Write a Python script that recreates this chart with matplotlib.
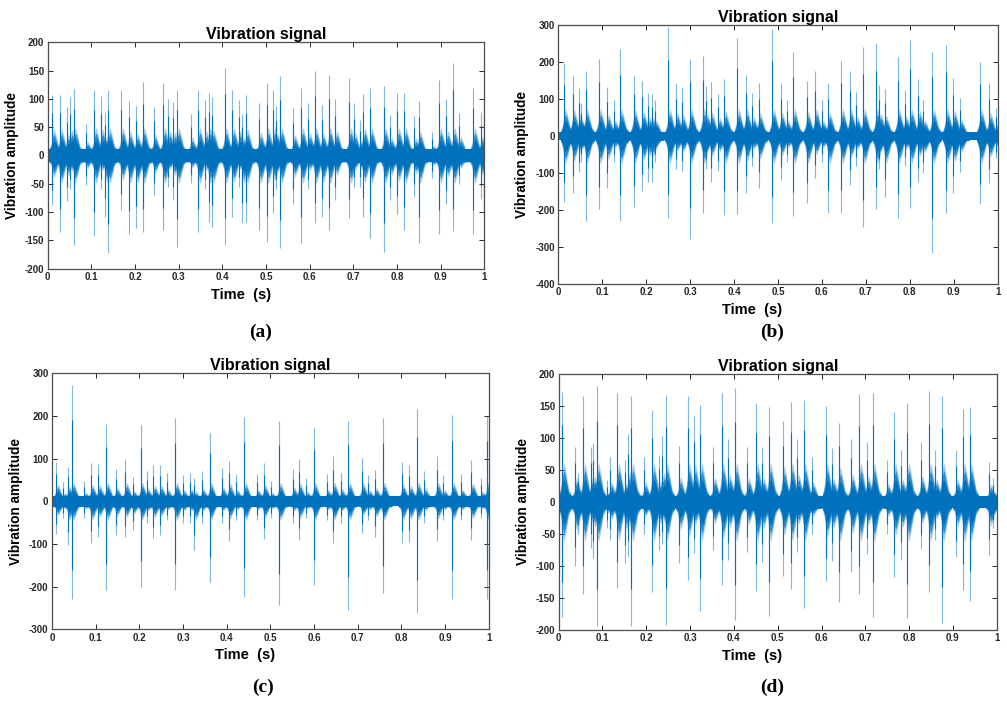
import numpy as np
import matplotlib
matplotlib.use("Agg")
import matplotlib.pyplot as plt

# ---------------- data ----------------
# Panel (a)
a_t = [0.0107, 0.0282, 0.0435, 0.0519, 0.0595, 0.0878, 0.1069, 0.1221, 0.1321, 0.1389,
       0.1687, 0.1855, 0.2023, 0.2176, 0.2427, 0.2649, 0.2763, 0.2878, 0.2969, 0.3275,
       0.3450, 0.3603, 0.3687, 0.3763, 0.4053, 0.4229, 0.4374, 0.4458, 0.4542, 0.4847,
       0.5015, 0.5168, 0.5229, 0.5328, 0.5626, 0.5809, 0.5969, 0.6115, 0.6275, 0.6435,
       0.6588, 0.6908, 0.7008, 0.7153, 0.7229, 0.7389, 0.7702, 0.7840, 0.8008, 0.8168,
       0.8397, 0.8496, 0.8802, 0.8969, 0.9130, 0.9282, 0.9427, 0.9748, 0.9916, 0.9992]
a_hi = [107, 107, 85, 104, 117, 56, 115, 105, 76, 116,
        116, 96, 87, 130, 86, 128, 99, 94, 115, 73,
        116, 98, 110, 103, 154, 115, 98, 73, 106, 92,
        128, 116, 87, 140, 83, 120, 92, 150, 90, 143,
        100, 136, 92, 63, 109, 119, 122, 72, 111, 111,
        70, 97, 42, 133, 99, 164, 75, 120, 77, 85]
a_lo = [-87, -135, -80, -60, -158, -52, -143, -60, -108, -173,
        -96, -139, -128, -135, -70, -132, -55, -79, -161, -49,
        -136, -60, -118, -126, -158, -108, -55, -119, -117, -132,
        -152, -101, -60, -164, -85, -155, -60, -119, -108, -132,
        -79, -111, -55, -55, -108, -146, -171, -79, -103, -131,
        -73, -155, -40, -138, -86, -134, -50, -138, -77, -108]

# Panel (b)
b_t = [0.0129, 0.0326, 0.0470, 0.0524, 0.0622, 0.0926, 0.1108, 0.1259, 0.1404, 0.1715,
       0.1912, 0.2049, 0.2124, 0.2193, 0.2504, 0.2678, 0.2807, 0.2997, 0.3285, 0.3361,
       0.3467, 0.3642, 0.3778, 0.4074, 0.4264, 0.4416, 0.4560, 0.4871, 0.5061, 0.5197,
       0.5349, 0.5653, 0.5842, 0.5994, 0.6146, 0.6442, 0.6631, 0.6775, 0.6942, 0.7231,
       0.7307, 0.7428, 0.7724, 0.7883, 0.8012, 0.8194, 0.8308, 0.8513, 0.8824, 0.8991,
       0.9143, 0.9598, 0.9803, 0.9954]
b_hi = [197, 163, 130, 89, 177, 208, 132, 98, 236, 163,
        150, 118, 114, 98, 295, 145, 132, 208, 217, 136,
        147, 114, 154, 265, 166, 118, 145, 290, 145, 98,
        227, 150, 176, 98, 145, 204, 176, 120, 240, 251,
        139, 127, 215, 126, 260, 156, 99, 227, 248, 158,
        102, 200, 144, 75]
b_lo = [-177, -153, -98, -70, -229, -198, -141, -70, -229, -191,
        -148, -123, -123, -70, -222, -90, -95, -279, -209, -90,
        -123, -95, -213, -211, -155, -80, -139, -234, -119, -70,
        -216, -182, -112, -70, -207, -209, -132, -80, -247, -198,
        -90, -165, -222, -80, -195, -123, -100, -317, -209, -155,
        -96, -184, -128, -60]

# Panel (c)
c_t = [0.0099, 0.0260, 0.0366, 0.0458, 0.0740, 0.0893, 0.1061, 0.1244, 0.1458, 0.1679,
       0.1847, 0.2031, 0.2168, 0.2321, 0.2473, 0.2626, 0.2824, 0.2992, 0.3160, 0.3260,
       0.3427, 0.3611, 0.3885, 0.4046, 0.4214, 0.4405, 0.4687, 0.4847, 0.5015, 0.5198,
       0.5511, 0.5649, 0.5817, 0.5992, 0.6290, 0.6435, 0.6611, 0.6786, 0.7092, 0.7244,
       0.7397, 0.7573, 0.8008, 0.8183, 0.8359, 0.8519, 0.8809, 0.8962, 0.9160, 0.9366,
       0.9603, 0.9824, 0.9954]
c_hi = [91, 46, 80, 273, 48, 89, 88, 181, 76, 99,
        58, 179, 70, 85, 85, 66, 195, 62, 66, 54,
        70, 161, 77, 95, 64, 198, 64, 89, 48, 189,
        76, 98, 54, 171, 64, 105, 67, 189, 101, 62,
        73, 195, 91, 85, 216, 72, 106, 62, 202, 64,
        97, 54, 201]
c_lo = [-77, -40, -102, -230, -40, -98, -83, -209, -79, -83,
        -67, -200, -50, -85, -79, -45, -209, -50, -50, -114,
        -50, -188, -50, -92, -45, -225, -45, -88, -40, -243,
        -50, -91, -40, -196, -45, -98, -50, -255, -75, -45,
        -83, -216, -98, -95, -262, -50, -92, -45, -230, -45,
        -91, -40, -230]

# Panel (d)
d_t = [0.0084, 0.0381, 0.0434, 0.0563, 0.0731, 0.0791, 0.0875, 0.1096, 0.1172, 0.1339,
       0.1507, 0.1583, 0.1659, 0.1948, 0.2139, 0.2291, 0.2367, 0.2443, 0.2747, 0.2945,
       0.3082, 0.3234, 0.3531, 0.3721, 0.3874, 0.4026, 0.4307, 0.4505, 0.4642, 0.4802,
       0.5114, 0.5297, 0.5441, 0.5594, 0.5776, 0.6096, 0.6240, 0.6393, 0.6674, 0.6865,
       0.7032, 0.7169, 0.7489, 0.7656, 0.7816, 0.7960, 0.8265, 0.8455, 0.8592, 0.8752,
       0.9072, 0.9231, 0.9384, 0.9833, 0.9916]
d_hi = [172, 86, 45, 165, 86, 92, 181, 34, 71, 171,
        66, 106, 165, 71, 143, 73, 103, 167, 88, 166,
        134, 152, 86, 170, 98, 178, 86, 154, 86, 148,
        126, 157, 99, 160, 71, 150, 84, 124, 99, 169,
        94, 171, 66, 140, 81, 154, 93, 173, 81, 165,
        81, 145, 149, 63, 37]
d_lo = [-179, -100, -50, -143, -72, -88, -194, -40, -60, -135,
        -96, -86, -194, -50, -140, -75, -66, -192, -96, -122,
        -80, -170, -75, -130, -91, -185, -78, -139, -93, -178,
        -116, -136, -78, -165, -50, -124, -92, -157, -110, -143,
        -81, -179, -50, -117, -90, -182, -74, -140, -60, -189,
        -86, -138, -154, -83, -40]

y_limits = {"a": (-200, 200), "b": (-400, 300), "c": (-300, 300), "d": (-200, 200)}
y_ticks = {"a": [-200, -150, -100, -50, 0, 50, 100, 150, 200],
           "b": [-400, -300, -200, -100, 0, 100, 200, 300],
           "c": [-300, -200, -100, 0, 100, 200, 300],
           "d": [-200, -150, -100, -50, 0, 50, 100, 150, 200]}
x_ticks = [0, 0.1, 0.2, 0.3, 0.4, 0.5, 0.6, 0.7, 0.8, 0.9, 1]
x_ticklabels = ["0", "0.1", "0.2", "0.3", "0.4", "0.5", "0.6", "0.7", "0.8", "0.9", "1"]

# noise floor and burst level of the dense core
floor_level = {"a": 11, "b": 11, "c": 12, "d": 10}
burst_cap = {"a": 50, "b": 75, "c": 45, "d": 62}

# ---------------- drawing ----------------
BLUE = "#0072BD"
plt.rcParams["font.family"] = ["Liberation Sans", "DejaVu Sans"]
plt.rcParams["axes.unicode_minus"] = False
fig = plt.figure(figsize=(10.07, 7.01), dpi=100)

positions = {"a": [0.0474, 0.6167, 0.4336, 0.3230],
             "b": [0.5544, 0.5949, 0.4363, 0.3690],
             "c": [0.0516, 0.1023, 0.4337, 0.3652],
             "d": [0.5548, 0.1013, 0.4350, 0.3652]}
data = {"a": (a_t, a_hi, a_lo), "b": (b_t, b_hi, b_lo),
        "c": (c_t, c_hi, c_lo), "d": (d_t, d_hi, d_lo)}
panel_label_xy = {"a": (261, 332), "b": (772, 332), "c": (263, 687), "d": (772, 687)}

# spindle shape of a burst (time offsets and relative envelope) - style only
sp_dt = np.array([-0.008, -0.003, 0.001, 0.004, 0.009, 0.014, 0.021])
sp_env = np.array([0.0, 0.45, 0.85, 1.0, 0.7, 0.35, 0.0])
layers = [(1.0, 0.35), (0.8, 0.7), (0.58, 1.0)]

W, H = 1007, 701
for key in ["a", "b", "c", "d"]:
    ax = fig.add_axes(positions[key])
    t, hi, lo = data[key]
    fl = floor_level[key]
    cap = burst_cap[key]
    # noise floor
    ax.fill_between([0, 1], [-fl, -fl], [fl, fl], color=BLUE, lw=0, zorder=2)
    # bursts around each impact
    for scale, alpha in layers:
        for ti, h, l in zip(t, hi, lo):
            up = min(0.45 * h, cap) * scale
            dn = min(0.45 * abs(l), cap) * scale
            xs = ti + sp_dt
            top = np.maximum(fl, up * sp_env)
            bot = -np.maximum(fl, dn * sp_env)
            ax.fill_between(xs, bot, top, color=BLUE, alpha=alpha, lw=0, zorder=2)
    # impact spikes
    ax.vlines(t, lo, hi, color=BLUE, lw=0.8, alpha=0.5, zorder=3)
    ax.vlines(t, np.array(lo) * 0.7, np.array(hi) * 0.7, color=BLUE, lw=0.8, zorder=3)

    ax.set_xlim(0, 1)
    ax.set_ylim(*y_limits[key])
    ax.set_xticks(x_ticks)
    ax.set_xticklabels(x_ticklabels)
    ax.set_yticks(y_ticks[key])
    ax.tick_params(direction="in", length=3.5, width=0.7, top=True, right=True,
                   labelsize=7, colors="#262626", pad=2.5)
    for lab in ax.get_xticklabels() + ax.get_yticklabels():
        lab.set_fontweight("bold")
    for s in ax.spines.values():
        s.set_color("#4d4d4d")
        s.set_linewidth(0.9)
    ax.set_title("Vibration signal", fontsize=11.5, fontweight="bold", pad=2.5)
    ax.set_xlabel("Time  (s)", fontsize=10.5, fontweight="bold")
    ax.xaxis.set_label_coords(0.442, -0.085 if key == "a" else -0.075)
    ax.set_ylabel("Vibration amplitude", fontsize=9.8, fontweight="bold")
    ax.yaxis.set_label_coords(-0.066, 0.5)
    px, py = panel_label_xy[key]
    fig.text(px / W, 1 - py / H, f"({key})", ha="center", va="center",
             fontsize=14, family="Liberation Serif", fontweight="bold")

fig.savefig("out.png", dpi=100)
